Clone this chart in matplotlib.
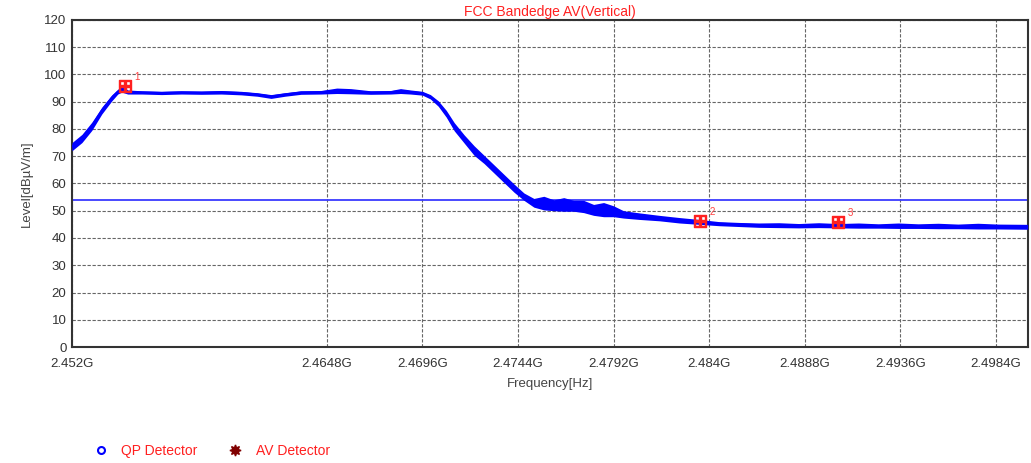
import matplotlib
matplotlib.use('Agg')
import matplotlib.pyplot as plt
from matplotlib.lines import Line2D

plt.rcParams['font.family'] = ['Liberation Sans', 'DejaVu Sans']

# trace envelope (MHz, dBuV/m)
freq_mhz = [2452.0, 2452.5, 2453.0, 2453.5, 2454.0, 2454.3, 2454.5, 2454.8,
            2455.5, 2456.5, 2457.5, 2458.5, 2459.5, 2460.5, 2461.3, 2462.0,
            2462.7, 2463.5, 2464.5, 2465.3, 2466.0, 2467.0, 2468.0, 2468.5,
            2469.0, 2469.6, 2470.0, 2470.4, 2470.8, 2471.2, 2471.7, 2472.2,
            2472.7, 2473.2, 2473.7, 2474.2, 2474.7, 2475.2, 2475.7, 2476.2,
            2476.7, 2477.2, 2477.7, 2478.2, 2478.7, 2479.2, 2479.7, 2480.5,
            2481.5, 2482.5, 2483.5, 2484.5, 2485.5, 2486.5, 2487.5, 2488.5,
            2489.5, 2490.5, 2491.5, 2492.5, 2493.5, 2494.5, 2495.5, 2496.5,
            2497.5, 2498.5, 2500.0]
level_hi = [75.0, 78.0, 82.5, 88.0, 92.5, 94.5, 96.0, 94.3,
            94.0, 93.8, 94.0, 93.9, 94.1, 93.8, 93.3, 92.6,
            93.3, 94.0, 94.1, 95.0, 94.8, 94.0, 94.1, 94.8,
            94.3, 93.8, 92.6, 90.3, 86.8, 82.3, 77.8, 73.8,
            70.3, 66.8, 63.3, 59.8, 56.5, 54.5, 55.3, 54.0,
            54.8, 53.8, 53.8, 52.3, 53.0, 51.8, 50.0, 49.2,
            48.3, 47.5, 46.8, 46.0, 45.7, 45.5, 45.6, 45.3,
            45.6, 45.3, 45.5, 45.2, 45.5, 45.2, 45.4, 45.1,
            45.4, 45.1, 45.0]
level_lo = [72.0, 75.0, 79.5, 85.5, 90.3, 92.8, 93.5, 92.8,
            92.8, 92.6, 92.8, 92.7, 92.8, 92.5, 92.0, 91.2,
            92.0, 92.7, 92.8, 93.0, 92.9, 92.7, 92.8, 93.0,
            92.8, 92.4, 91.0, 88.3, 84.3, 79.3, 74.8, 70.3,
            67.3, 63.8, 60.3, 56.8, 53.8, 51.3, 50.3, 50.0,
            49.8, 49.8, 49.3, 48.3, 47.8, 47.8, 47.3, 46.8,
            46.3, 45.5, 45.0, 44.5, 44.2, 43.9, 43.8, 43.7,
            43.8, 43.7, 43.6, 43.6, 43.5, 43.5, 43.4, 43.4,
            43.3, 43.3, 43.2]

limit = 54

marker_freq = [2454.65, 2483.55, 2490.45]
marker_level = [95.9, 46.4, 46.0]
marker_names = ['1', '2', '3']

xtick_mhz = [2452.0, 2464.8, 2469.6, 2474.4, 2479.2, 2484.0, 2488.8, 2493.6, 2498.4]
xtick_labels = ['2.452G', '2.4648G', '2.4696G', '2.4744G', '2.4792G',
                '2.484G', '2.4888G', '2.4936G', '2.4984G']

fig = plt.figure(figsize=(10.31, 4.63), dpi=100)
ax = fig.add_axes([0.0698, 0.2505, 0.927, 0.7065])

f_ghz = [f / 1000 for f in freq_mhz]
mid = [(h + l) / 2 for h, l in zip(level_hi, level_lo)]
ax.fill_between(f_ghz, level_lo, level_hi, color='#0000ff', lw=0, zorder=3)
ax.plot(f_ghz, mid, color='#0000ff', lw=1.5, zorder=3)

ax.axhline(limit, color='#3a3aff', lw=1.3, zorder=2)

mf = [f / 1000 for f in marker_freq]
ax.plot(mf, marker_level, ls='none', marker='$\\boxplus$', ms=9,
        color='#ff2020', zorder=4)
for x, y, n in zip(mf, marker_level, marker_names):
    ax.annotate(n, (x, y), xytext=(7, 4), textcoords='offset points',
                color='#ff4040', fontsize=7, zorder=5)

ax.set_xlim(2.452, 2.5)
ax.set_ylim(0, 120)
ax.set_yticks(range(0, 121, 10))
ax.set_xticks([t / 1000 for t in xtick_mhz])
ax.set_xticklabels(xtick_labels)
ax.tick_params(length=0, labelsize=9.5, labelcolor='#333333')
ax.tick_params(axis='x', pad=8)
ax.tick_params(axis='y', pad=4)
ax.grid(True, color='#666666', ls=(0, (3, 1.5)), lw=0.8)
for s in ax.spines.values():
    s.set_color('#333333')
    s.set_linewidth(1.5)

ax.set_title('FCC Bandedge AV(Vertical)', color='#ff2020', fontsize=10, pad=3)
ax.set_xlabel('Frequency[Hz]', color='#444444', fontsize=9.5, labelpad=6)
ax.set_ylabel('Level[dBµV/m]', color='#444444', fontsize=9.5, labelpad=8)

handles = [Line2D([], [], ls='none', marker='o', mfc='none', mec='#0000ff',
                  mew=1.5, ms=5),
           Line2D([], [], ls='none', marker=(8, 1, 0), color='#800000', ms=8)]
leg = fig.legend(handles, ['QP Detector', 'AV Detector'], loc='center left',
                 bbox_to_anchor=(0.072, 0.026), ncol=2, frameon=False,
                 fontsize=10, handletextpad=0.5, columnspacing=1.7)
for t in leg.get_texts():
    t.set_color('#ff2020')

fig.savefig('out.png', dpi=100)
